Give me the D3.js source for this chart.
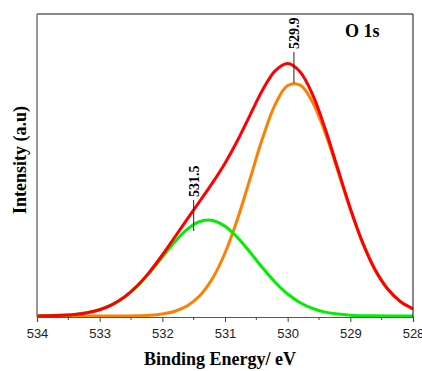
<!DOCTYPE html>
<html>
<head>
<meta charset="utf-8">
<script src="https://cdn.jsdelivr.net/npm/d3@7"></script>
<style>
  html, body { margin: 0; padding: 0; background: #fff; }
  svg { display: block; }
</style>
</head>
<body>
<svg id="chart" width="422" height="371"></svg>
<script>
// O 1s core-level spectrum: binding energies (eV) and fitted components
const bindingEnergy = [534.0, 533.8, 533.6, 533.4, 533.2, 533.0, 532.8, 532.6, 532.4, 532.2,
  532.0, 531.8, 531.6, 531.4, 531.2, 531.0, 530.8, 530.6, 530.4, 530.2,
  530.0, 529.8, 529.6, 529.4, 529.2, 529.0, 528.8, 528.6, 528.4, 528.2, 528.0];

// lattice oxygen component (peak 529.9 eV)
const latticeO = [0, 0, 0, 0, 0, 0.01, 0.03, 0.09, 0.27, 0.76,
  2.0, 4.7, 10.2, 20.5, 37.5, 63.0, 97.0, 137.2, 177.9, 211.4,
  230.5, 230.8, 213.6, 183.1, 145.3, 106.7, 72.5, 45.6, 26.6, 14.4, 7.2];

// surface / hydroxyl oxygen component (peak 531.5 eV)
const surfaceO = [0.11, 0.28, 0.67, 1.52, 3.2, 6.2, 11.3, 19.1, 29.9, 43.6,
  59.0, 74.3, 86.9, 94.5, 95.6, 89.8, 78.5, 63.7, 48.1, 33.8,
  22.0, 13.3, 7.5, 3.9, 1.9, 0.87, 0.37, 0.14, 0.05, 0.02, 0.01];

// fitted envelope
const envelope = [0.1, 0.3, 0.7, 1.5, 3.2, 6.2, 11.3, 19.2, 30.2, 44.4,
  61.0, 79.0, 97.1, 115.0, 133.1, 152.8, 175.5, 200.9, 226.0, 245.2,
  252.5, 244.1, 221.1, 187.0, 147.2, 107.6, 72.9, 45.7, 26.7, 14.4, 7.2];

const xTicks = [534, 533, 532, 531, 530, 529, 528];
const peakLabels = [
  { text: "529.9", energy: 529.9, value: 233 },
  { text: "531.5", energy: 531.5, value: 85 }
];

const svg = d3.select("#chart");
const mLeft = 37, mRight = 413, mTop = 14, mBottom = 317;

const x = d3.scaleLinear().domain([534, 528]).range([mLeft, mRight]);
const y = d3.scaleLinear().domain([-1, 302]).range([mBottom, mTop]);

// clip the curves to the plotting area
svg.append("defs").append("clipPath").attr("id", "plotClip")
  .append("rect").attr("x", mLeft).attr("y", mTop)
  .attr("width", mRight - mLeft).attr("height", mBottom - mTop);

const line = d3.line()
  .x(d => x(d[0]))
  .y(d => y(d[1]))
  .curve(d3.curveCatmullRom.alpha(0.5));

const series = [
  { values: latticeO, color: "#ff8000" },
  { values: surfaceO, color: "#00ee00" },
  { values: envelope, color: "#ff0000" }
];

const plot = svg.append("g").attr("clip-path", "url(#plotClip)");
series.forEach(s => {
  plot.append("path")
    .datum(bindingEnergy.map((e, i) => [e, s.values[i]]))
    .attr("d", line)
    .attr("fill", "none")
    .attr("stroke", s.color)
    .attr("stroke-width", 3)
    .attr("stroke-linejoin", "round");
});

// frame: top and right edges
svg.append("path")
  .attr("d", `M${mLeft},${mTop}H${mRight}V${mBottom}`)
  .attr("fill", "none").attr("stroke", "#111").attr("stroke-width", 1);

// left axis line
svg.append("line")
  .attr("x1", mLeft).attr("x2", mLeft).attr("y1", mTop).attr("y2", mBottom)
  .attr("stroke", "#777").attr("stroke-width", 1.5);

// bottom axis with major and minor ticks
const xAxis = d3.axisBottom(x)
  .tickValues(xTicks)
  .tickFormat(d3.format("d"))
  .tickSize(5)
  .tickPadding(7);
const gx = svg.append("g").attr("transform", `translate(0,${mBottom})`).call(xAxis);
gx.select(".domain").attr("stroke", "#555").attr("stroke-width", 1.2);
gx.selectAll(".tick line").attr("stroke", "#444");
gx.selectAll(".tick text")
  .attr("font-family", "Liberation Sans, Arial, sans-serif")
  .attr("font-size", 13)
  .attr("fill", "#222");

const minor = d3.range(533.5, 528, -1);
gx.selectAll(".minor").data(minor).enter().append("line")
  .attr("class", "minor")
  .attr("x1", d => x(d)).attr("x2", d => x(d))
  .attr("y1", 0).attr("y2", 3)
  .attr("stroke", "#444");

// axis titles
svg.append("text")
  .attr("x", 220).attr("y", 365)
  .attr("text-anchor", "middle")
  .attr("font-family", "Liberation Serif, Times New Roman, serif")
  .attr("font-weight", "bold").attr("font-size", 18)
  .text("Binding Energy/ eV");

svg.append("text")
  .attr("transform", "translate(26,160) rotate(-90)")
  .attr("text-anchor", "middle")
  .attr("font-family", "Liberation Serif, Times New Roman, serif")
  .attr("font-weight", "bold").attr("font-size", 18)
  .text("Intensity (a.u)");

svg.append("text")
  .attr("x", 345).attr("y", 37)
  .attr("font-family", "Liberation Serif, Times New Roman, serif")
  .attr("font-weight", "bold").attr("font-size", 18)
  .text("O 1s");

// peak position markers
const labelLen = 31;
peakLabels.forEach(p => {
  const px = x(p.energy);
  const py = y(p.value);
  const lineTop = py - labelLen;
  svg.append("line")
    .attr("x1", px).attr("x2", px)
    .attr("y1", lineTop).attr("y2", py)
    .attr("stroke", "#222").attr("stroke-width", 1);
  svg.append("text")
    .attr("transform", `translate(${px + 5},${lineTop - 3}) rotate(-90)`)
    .attr("text-anchor", "start")
    .attr("font-family", "Liberation Serif, Times New Roman, serif")
    .attr("font-weight", "bold").attr("font-size", 14)
    .text(p.text);
});
</script>
</body>
</html>
